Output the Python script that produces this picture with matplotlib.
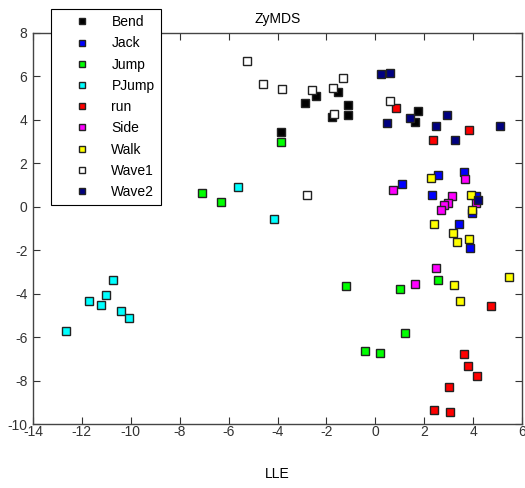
import matplotlib
matplotlib.use("Agg")
import matplotlib.pyplot as plt

plt.rcParams['font.family'] = ['Liberation Sans', 'DejaVu Sans']
plt.rcParams['axes.unicode_minus'] = False

names = ["Bend", "Jack", "Jump", "PJump", "run", "Side", "Walk", "Wave1", "Wave2"]
colors = ["#000000", "#0000ff", "#00ff00", "#00ffff", "#ff0000", "#ff00ff", "#ffff00", "#ffffff", "#000080"]

bend_x = [-2.42, -2.89, -1.52, -1.11, -1.11, -1.77, -3.85, 1.73, 1.62]
bend_y = [5.12, 4.80, 5.29, 4.70, 4.22, 4.13, 3.44, 4.39, 3.91]
jack_x = [2.58, 3.62, 1.10, 2.31, 3.43, 3.86, 4.13, 3.94]
jack_y = [1.44, 1.60, 1.07, 0.54, -0.81, -1.92, 0.50, -0.30]
jump_x = [-3.85, -7.10, -6.31, -1.21, 2.56, 1.02, 1.21, -0.42, 0.18]
jump_y = [2.96, 0.64, 0.23, -3.67, -3.39, -3.78, -5.83, -6.66, -6.72]
pjump_x = [-5.62, -4.13, -10.72, -11.00, -11.70, -11.20, -10.41, -10.08, -12.66]
pjump_y = [0.92, -0.57, -3.36, -4.04, -4.34, -4.51, -4.82, -5.10, -5.73]
run_x = [0.83, 3.85, 2.37, 4.75, 3.62, 3.80, 4.16, 3.00, 2.42, 3.06]
run_y = [4.54, 3.55, 3.07, -4.56, -6.78, -7.35, -7.81, -8.30, -9.35, -9.45]
side_x = [3.66, 0.73, 3.12, 2.98, 2.83, 2.68, 4.11, 2.50, 1.62]
side_y = [1.29, 0.77, 0.49, 0.18, 0.08, -0.14, 0.17, -2.82, -3.56]
walk_x = [2.27, 3.90, 3.94, 2.42, 3.17, 3.33, 3.85, 3.21, 3.48, 5.48]
walk_y = [1.34, 0.55, -0.14, -0.77, -1.23, -1.61, -1.50, -3.60, -4.36, -3.24]
wave1_x = [-5.25, -4.60, -3.81, -2.60, -1.73, -1.31, -1.69, -2.79, 0.60]
wave1_y = [6.69, 5.65, 5.43, 5.39, 5.49, 5.91, 4.28, 0.55, 4.85]
wave2_x = [0.23, 0.60, 0.48, 1.43, 2.93, 2.50, 3.25, 5.12, 4.22]
wave2_y = [6.12, 6.17, 3.87, 4.07, 4.22, 3.70, 3.07, 3.74, 0.32]

series_x = [bend_x, jack_x, jump_x, pjump_x, run_x, side_x, walk_x, wave1_x, wave2_x]
series_y = [bend_y, jack_y, jump_y, pjump_y, run_y, side_y, walk_y, wave1_y, wave2_y]

xticks = list(range(-14, 7, 2))
yticks = list(range(-10, 9, 2))

fig = plt.figure(figsize=(5.25, 4.88), dpi=100)
ax = fig.add_axes([33/525, 1-424/488, (522-33)/525, (424-33)/488])

for name, c, xs, ys in zip(names, colors, series_x, series_y):
    ax.plot(xs, ys, linestyle='none', marker='s', markersize=6.2,
            markerfacecolor=c, markeredgecolor='#222222', markeredgewidth=1.0,
            label=name)

ax.set_xlim(-14, 6)
ax.set_ylim(-10, 8)
ax.set_xticks(xticks)
ax.set_yticks(yticks)
ax.tick_params(direction='in', length=5, width=0.8, top=True, right=True,
               labelsize=10, colors='#333333')
ax.tick_params(axis='x', pad=1)
ax.tick_params(axis='y', pad=4)
for s in ax.spines.values():
    s.set_color('#444444')
    s.set_linewidth(1.0)

ax.set_title("ZyMDS", fontsize=10, pad=7)
ax.set_xlabel("LLE", fontsize=10)
ax.xaxis.set_label_coords(0.5, -0.11)

leg = ax.legend(loc='upper left', bbox_to_anchor=(51/525, 1-9/488),
                bbox_transform=fig.transFigure, fontsize=10, frameon=True,
                fancybox=False, framealpha=1, edgecolor='#000000',
                markerscale=0.75, handlelength=3.6, handletextpad=0.3,
                labelspacing=0.52, borderpad=0.45, borderaxespad=0)
leg.get_frame().set_linewidth(0.8)

fig.savefig("out.png", dpi=100)
